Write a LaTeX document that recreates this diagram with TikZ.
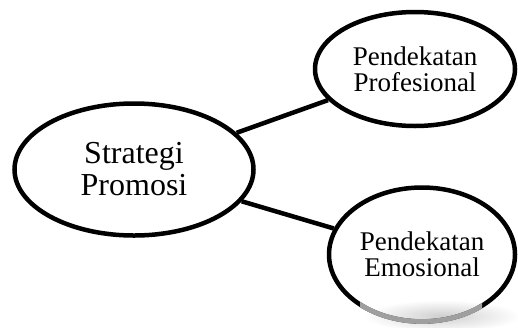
\documentclass[tikz,border=0pt]{standalone}
\usepackage{fontspec}
\setmainfont{Liberation Serif}
\usetikzlibrary{shapes.geometric}
\begin{document}
\begin{tikzpicture}[x=1pt,y=-1pt,
  bubble/.style={ellipse, draw, line width=4.5pt, inner sep=0pt, align=center},
  bigtext/.style={font=\fontsize{32}{32}\selectfont},
  smalltext/.style={font=\fontsize{27}{26}\selectfont},
  link/.style={line width=4.5pt}]
\useasboundingbox (0,0) rectangle (518,327);

% soft grey shadow under the lower bubble
\shade[inner color=gray!38, outer color=white] (442,316) ellipse (78 and 16);

\node[bubble, bigtext, minimum width=239pt, minimum height=132pt] (strat) at (134,169.5) {Strategi\\Promosi};
\node[bubble, smalltext, minimum width=200pt, minimum height=114pt] (prof) at (415,69) {Pendekatan\\Profesional};
\node[bubble, smalltext, minimum width=186pt, minimum height=134pt] (emo) at (422,254.5) {Pendekatan\\Emosional};

\draw[link] (strat) -- (prof);
\draw[link] (strat) -- (emo);

% faded lower rim of the lower bubble
\begin{scope}
  \clip (360,302) rectangle (482,327);
  \draw[line width=4.8pt, gray!75] (422,254.5) ellipse (93 and 67);
\end{scope}
\end{tikzpicture}
\end{document}
